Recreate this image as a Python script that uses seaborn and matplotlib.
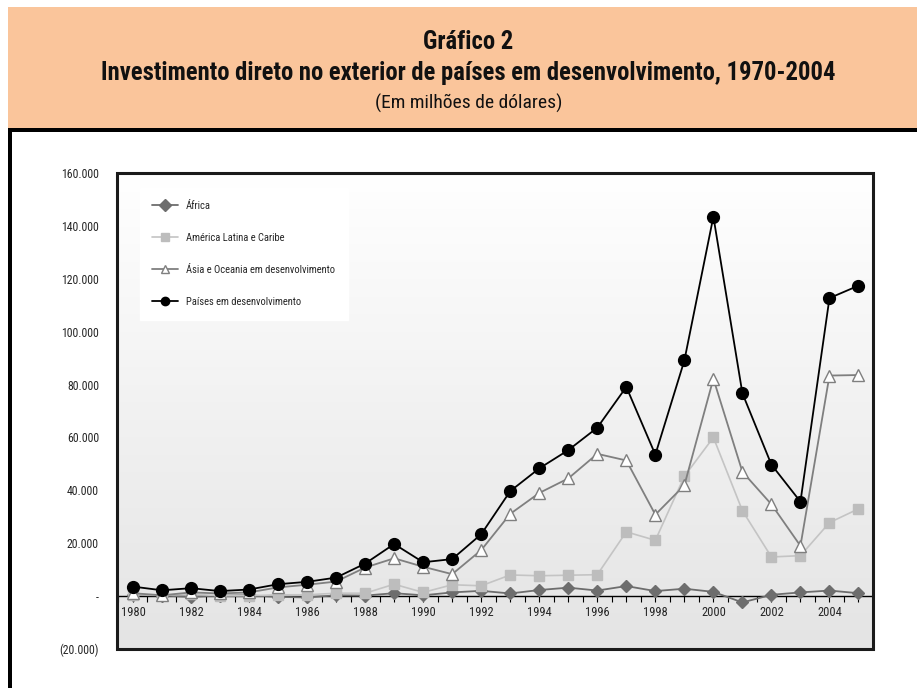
import numpy as np
import pandas as pd
import matplotlib
matplotlib.use("Agg")
import matplotlib.pyplot as plt
from matplotlib.patches import Rectangle
import seaborn as sns

years = list(range(1980, 2006))
africa = [500, 200, -300, 200, 300, -300, -500, 300, 200, 1100, 300, 1400, 2000,
          1000, 2300, 3200, 2100, 3800, 1900, 2800, 1600, -2400, 500, 1400, 2100, 1100]
america = [600, 300, 800, 100, 100, 500, 500, 1100, 1100, 4500, 1400, 4300, 3900,
           8000, 7700, 7900, 8100, 24300, 21100, 45300, 60000, 32300, 14800, 15300, 27800, 33000]
asia = [1100, 300, 1400, 1000, 1400, 3300, 4300, 5500, 10800, 14300, 11100, 8300, 17400,
        31100, 39000, 44500, 53800, 51300, 30800, 41900, 82200, 47000, 34700, 19000, 83400, 83600]
paises = [3600, 2200, 3000, 1900, 2500, 4500, 5400, 7000, 12300, 19700, 12800, 14000, 23400,
          39700, 48300, 55200, 63700, 79100, 53500, 89100, 143500, 76700, 49700, 35700, 112700, 117400]
series_names = ["África", "América Latina e Caribe",
                "Ásia e Oceania em desenvolvimento", "Países em desenvolvimento"]
yticks = [-20000, 0, 20000, 40000, 60000, 80000, 100000, 120000, 140000, 160000]
xtick_years = list(range(1980, 2005, 2))

sns.set_theme(style="white")
FONT = ["Roboto Condensed", "DejaVu Sans"]
plt.rcParams["font.family"] = FONT

fig = plt.figure(figsize=(9.17, 6.88), dpi=100)
W, H = 917, 688

def fx(x): return x / W
def fy(y): return 1 - y / H

# header
fig.patches.append(Rectangle((fx(8), fy(128)), 1 - fx(8), fy(7) - fy(128),
                             transform=fig.transFigure, facecolor="#FAC59B",
                             edgecolor="none", zorder=0))
fig.patches.append(Rectangle((fx(8), fy(132)), 1 - fx(8), fy(128) - fy(132),
                             transform=fig.transFigure, facecolor="black",
                             edgecolor="none", zorder=1))
fig.patches.append(Rectangle((fx(8), 0), fx(12) - fx(8), fy(128),
                             transform=fig.transFigure, facecolor="black",
                             edgecolor="none", zorder=1))
fig.text(fx(468), fy(42), "Gráfico 2", ha="center", va="center",
         fontsize=17.7, fontweight="bold", family=FONT, color="#111111")
fig.text(fx(468), fy(73), "Investimento direto no exterior de países em desenvolvimento, 1970-2004",
         ha="center", va="center", fontsize=17.7, fontweight="bold", family=FONT, color="#111111")
fig.text(fx(469), fy(103), "(Em milhões de dólares)", ha="center", va="center",
         fontsize=14, family=FONT, color="#111111")

ax = fig.add_axes([fx(117), fy(649), fx(873) - fx(117), fy(173) - fy(649)])

# gradient background
grad = np.linspace(0, 1, 256).reshape(-1, 1)
ax.imshow(grad, extent=[0, 1, 0, 1], transform=ax.transAxes, aspect="auto",
          cmap=matplotlib.colors.LinearSegmentedColormap.from_list("g", ["#e4e4e4", "#ffffff"]),
          origin="lower", zorder=0)

df = pd.DataFrame({
    "Ano": years * 4,
    "Valor": africa + america + asia + paises,
    "Série": sum([[n] * len(years) for n in series_names], []),
})

styles = {
    series_names[0]: dict(color="#6d6d6d", marker="D", ms=6, mfc="#6d6d6d", mec="#6d6d6d", lw=1.3),
    series_names[1]: dict(color="#c4c4c4", marker="s", ms=7.5, mfc="#bdbdbd", mec="#bdbdbd", lw=1.2),
    series_names[2]: dict(color="#7f7f7f", marker="^", ms=9, mfc="white", mec="#7f7f7f", lw=1.3),
    series_names[3]: dict(color="black", marker="o", ms=8.5, mfc="black", mec="black", lw=1.3),
}
for name in series_names:
    s = styles[name]
    sub = df[df["Série"] == name]
    sns.lineplot(data=sub, x="Ano", y="Valor", ax=ax, color=s["color"], lw=s["lw"],
                 marker=s["marker"], markersize=s["ms"], markerfacecolor=s["mfc"],
                 markeredgecolor=s["mec"], markeredgewidth=1.0, label=name, zorder=3)

ax.set_xlim(1979.45, 2005.5)
ax.set_ylim(-20000, 160000)
ax.set_xlabel("")
ax.set_ylabel("")

for sp in ["top", "right", "left"]:
    ax.spines[sp].set_visible(False)
ax.spines["bottom"].set_position(("data", 0))
ax.spines["bottom"].set_color("black")
ax.spines["bottom"].set_linewidth(1.0)
ax.spines["bottom"].set_zorder(2)
ax.add_patch(Rectangle((0, 0), 1, 1, transform=ax.transAxes, fill=False,
                       edgecolor="#1a1a1a", lw=2.2, clip_on=False, zorder=5))

ax.set_xticks(xtick_years)
ax.set_xticks(np.arange(1979.5, 2005.6, 0.5), minor=True)
ax.set_xticklabels([str(y) for y in xtick_years], fontsize=9, family=FONT)
ax.tick_params(axis="x", which="both", direction="out", length=4, width=0.8,
               color="black", pad=3, bottom=True)

def ylab(v):
    if v == 0:
        return "-"
    s = f"{abs(v):,}".replace(",", ".")
    return f"({s})" if v < 0 else s

ax.set_yticks(yticks)
ax.set_yticklabels([ylab(v) for v in yticks], fontsize=8.5, family=FONT)
ax.tick_params(axis="y", which="both", left=True, length=0, pad=13)

leg = ax.legend(loc="upper left", bbox_to_anchor=(0.030, 0.9685), frameon=True,
                fancybox=False, edgecolor="white", facecolor="white", framealpha=1,
                labelspacing=2.1, handlelength=2.4, borderpad=1.2,
                borderaxespad=0, handletextpad=0.8, prop={"family": FONT, "size": 7.6})
for h in leg.legend_handles:
    h.set_markersize(6)

fig.savefig("out.png", dpi=100)
